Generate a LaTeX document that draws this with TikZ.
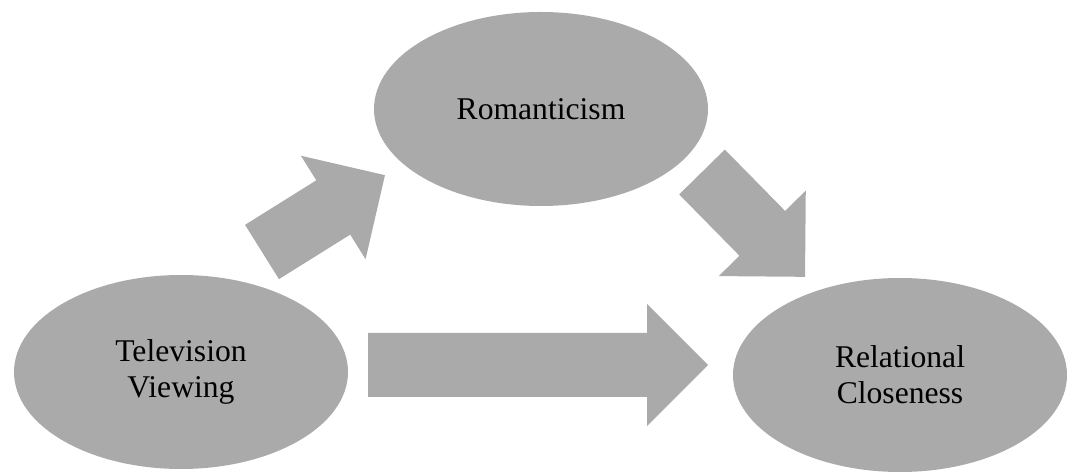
\documentclass[tikz,border=0pt]{standalone}
\usepackage{fontspec}
\setmainfont{Liberation Serif}
\usetikzlibrary{shapes.geometric}
\definecolor{shapegray}{RGB}{170,170,170}
\tikzset{
  oval/.style={ellipse, fill=shapegray, draw=none, inner sep=0pt,
    minimum width=33.4mm, minimum height=19.4mm, align=center,
    font=\fontsize{9}{10.3}\selectfont},
  arrowfill/.style={fill=shapegray, draw=none}
}
\newcommand\blockarrow[3]{%
  \fill[arrowfill, shift={(#1)}, rotate=#2]
    (0,32) -- ({#3-61},32) -- ({#3-61},61) -- (#3,0) -- ({#3-61},-61) -- ({#3-61},-32) -- (0,-32) -- cycle;}
\begin{document}
\begin{tikzpicture}[x=0.1mm, y=0.1mm]
\useasboundingbox (0,0) rectangle (1067,476);
\node[oval] (tv) at (181,104) {Television\\Viewing};
\node[oval] (rom) at (541,367) {Romanticism};
\node[oval] (rel) at (900,101) {Relational\\Closeness};
\coordinate (a1) at (262,224);
\coordinate (a2) at (702,304);
\coordinate (a3) at (368,111);
\blockarrow{a1}{32}{145}
\blockarrow{a2}{-45.5}{147}
\blockarrow{a3}{0}{340}
\end{tikzpicture}
\end{document}
